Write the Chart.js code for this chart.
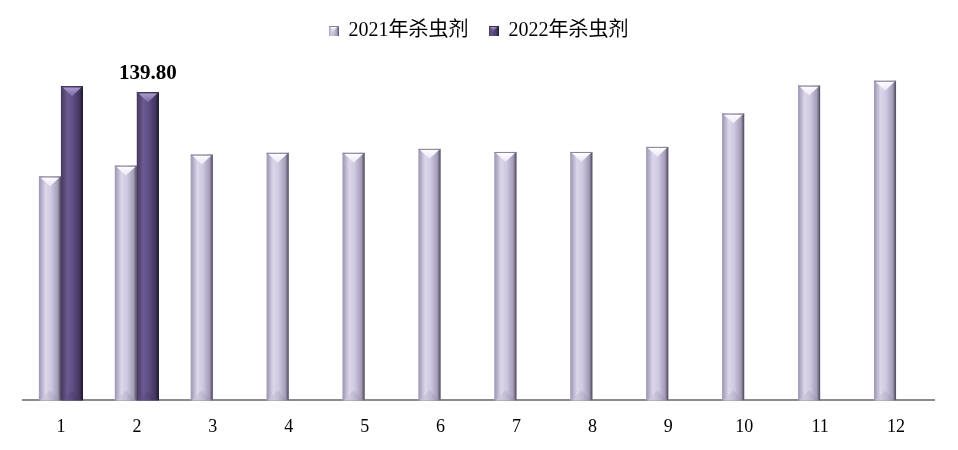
<!DOCTYPE html>
<html>
<head>
<meta charset="utf-8">
<script src="https://cdn.jsdelivr.net/npm/chart.js@4.4.0/dist/chart.umd.min.js"></script>
<style>
html,body{margin:0;padding:0;background:#fff;}
#wrap{width:958px;height:450px;position:relative;}
</style>
</head>
<body>
<div id="wrap"><canvas id="c"></canvas></div>
<script>
const categories = ['1','2','3','4','5','6','7','8','9','10','11','12'];
const series2021 = [101.6,106.5,111.5,112.3,112.3,114.1,112.7,112.7,115.0,130.1,142.8,145.0];
const series2022 = [142.5,139.8,null,null,null,null,null,null,null,null,null,null];
const seriesNames = ['2021年杀虫剂','2022年杀虫剂'];
const labelText = '139.80';

const FONT = "'Liberation Serif','Times New Roman','Noto Sans CJK SC',serif";

const palettes = [
  {base:'#c6bfd9', stops:['#9c94b2','#dcd6ea','#cfc8e0','#a49cb8','#4a4658'], topA:'#ffffff', topB:'#ece8f6', botA:'#d8d2e6', botB:'#8e86a2', edge:'#8a849a'},
  {base:'#5a4880', stops:['#46385e','#6c5a92','#5e4c84','#43355e','#1c1628'], topA:'#b0a2cc', topB:'#7c6aa8', botA:'#6a5890', botB:'#3a2e52', edge:'#3a2e52'}
];

function paintBevel(ctx, L, R, top, bot, p){
  const w = R - L, cx = (L + R) / 2;
  const g = ctx.createLinearGradient(L, 0, R, 0);
  g.addColorStop(0, p.stops[0]);
  g.addColorStop(0.3, p.stops[1]);
  g.addColorStop(0.55, p.stops[2]);
  g.addColorStop(0.85, p.stops[3]);
  g.addColorStop(1, p.stops[4]);
  ctx.fillStyle = g;
  ctx.fillRect(L, top, w, bot - top);
  const h = Math.min(w * 0.45, (bot - top) / 2);
  const tg = ctx.createLinearGradient(0, top, 0, top + h);
  tg.addColorStop(0, p.topA);
  tg.addColorStop(1, p.topB);
  ctx.fillStyle = tg;
  ctx.beginPath();
  ctx.moveTo(L + 1.5, top + 1);
  ctx.lineTo(R - 1.5, top + 1);
  ctx.lineTo(cx, top + h);
  ctx.closePath();
  ctx.fill();
  ctx.fillStyle = p.edge;
  ctx.fillRect(L, top, w, 1);
  const bg = ctx.createLinearGradient(L, 0, R, 0);
  bg.addColorStop(0, p.botA);
  bg.addColorStop(1, p.botB);
  ctx.fillStyle = bg;
  ctx.globalAlpha = 0.5;
  ctx.beginPath();
  ctx.moveTo(L + 1, bot);
  ctx.lineTo(R - 1, bot);
  ctx.lineTo(cx, bot - h);
  ctx.closePath();
  ctx.fill();
  ctx.globalAlpha = 1;
}

function legendIcon(p){
  const cv = document.createElement('canvas');
  cv.width = 10; cv.height = 10;
  const c = cv.getContext('2d');
  paintBevel(c, 0, 10, 0, 10, p);
  return cv;
}

const bevelPlugin = {
  id: 'bevelBars',
  afterDatasetsDraw(chart){
    const ctx = chart.ctx;
    ctx.save();
    chart.data.datasets.forEach((ds, di) => {
      const meta = chart.getDatasetMeta(di);
      meta.data.forEach((el, i) => {
        if (ds.data[i] == null) return;
        const {x, y, base, width} = el.getProps(['x','y','base','width'], true);
        paintBevel(ctx, x - width/2, x + width/2, y, base, palettes[di]);
      });
    });
    const el = chart.getDatasetMeta(1).data[1];
    if (el) {
      ctx.font = "bold 21px " + FONT;
      ctx.fillStyle = '#000';
      ctx.textAlign = 'center';
      ctx.textBaseline = 'alphabetic';
      ctx.fillText(labelText, el.x, el.y - 13);
    }
    ctx.restore();
  }
};

new Chart(document.getElementById('c'), {
  type: 'bar',
  data: {
    labels: categories,
    datasets: [
      {label: seriesNames[0], data: series2021, backgroundColor: palettes[0].base, pointStyle: legendIcon(palettes[0]),
       barPercentage: 1.0, categoryPercentage: 0.58},
      {label: seriesNames[1], data: series2022, backgroundColor: palettes[1].base, pointStyle: legendIcon(palettes[1]),
       barPercentage: 1.0, categoryPercentage: 0.58}
    ]
  },
  options: {
    responsive: true,
    maintainAspectRatio: false,
    animation: false,
    layout: {padding: {left: 23, right: 24, top: 1, bottom: 4}},
    plugins: {
      legend: {
        display: true,
        position: 'top',
        labels: {
          usePointStyle: true,
          boxWidth: 10, boxHeight: 10,
          padding: 20,
          color: '#000',
          font: {family: FONT, size: 20}
        }
      },
      tooltip: {enabled: false}
    },
    scales: {
      x: {
        grid: {display: false},
        border: {display: true, color: '#8c8c8c', width: 2},
        ticks: {color: '#000', font: {family: FONT, size: 18}, padding: 8}
      },
      y: {
        display: false,
        min: 0,
        max: 158.5
      }
    }
  },
  plugins: [bevelPlugin]
});
</script>
</body>
</html>
